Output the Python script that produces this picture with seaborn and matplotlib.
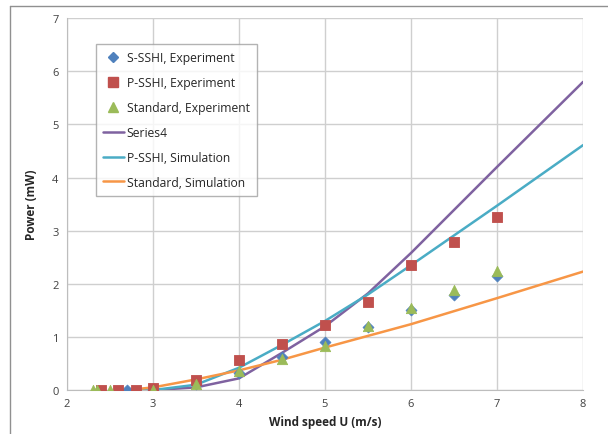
import matplotlib
matplotlib.use("Agg")
import matplotlib.pyplot as plt
import seaborn as sns
from matplotlib.lines import Line2D

# === Datos experimentales ===
s_sshi_x = [2.7, 3.0, 3.5, 4.0, 4.5, 5.0, 5.5, 6.0, 6.5, 7.0]
s_sshi_y = [0.0, 0.01, 0.12, 0.33, 0.62, 0.90, 1.18, 1.50, 1.78, 2.15]

p_sshi_x = [2.4, 2.6, 2.8, 3.0, 3.5, 4.0, 4.5, 5.0, 5.5, 6.0, 6.5, 7.0]
p_sshi_y = [0.0, 0.0, 0.01, 0.04, 0.19, 0.57, 0.87, 1.22, 1.65, 2.36, 2.78, 3.25]

std_x = [2.3, 2.35, 2.5, 3.0, 3.5, 4.0, 4.5, 5.0, 5.5, 6.0, 6.5, 7.0]
std_y = [0.0, 0.0, 0.0, 0.01, 0.12, 0.35, 0.58, 0.82, 1.20, 1.55, 1.88, 2.25]

# === Simulaciones ===
series4_x = [3.0, 3.5, 4.0, 4.5, 5.0, 5.5, 6.0, 7.0, 8.0]
series4_y = [0.0, 0.05, 0.22, 0.70, 1.20, 1.82, 2.58, 4.20, 5.80]

p_sim_x = [2.8, 3.0, 3.5, 4.0, 4.5, 5.0, 5.5, 6.0, 7.0, 8.0]
p_sim_y = [0.0, 0.0, 0.10, 0.42, 0.85, 1.30, 1.80, 2.35, 3.47, 4.61]

std_sim_x = [2.7, 3.0, 3.5, 4.0, 4.5, 5.0, 5.5, 6.0, 7.0, 8.0]
std_sim_y = [0.0, 0.05, 0.20, 0.37, 0.57, 0.80, 1.02, 1.24, 1.73, 2.23]

sns.set_style("white")
plt.rcParams["font.family"] = ["Open Sans", "DejaVu Sans"]

fig = plt.figure(figsize=(6.08, 4.35), dpi=100)
ax = fig.add_axes([0.110, 0.101, 0.849, 0.855])

sns.lineplot(x=series4_x, y=series4_y, ax=ax, color="#7F62A0", linewidth=1.8)
sns.lineplot(x=p_sim_x, y=p_sim_y, ax=ax, color="#4AACC5", linewidth=1.8)
sns.lineplot(x=std_sim_x, y=std_sim_y, ax=ax, color="#F79646", linewidth=1.8)

sns.scatterplot(x=s_sshi_x, y=s_sshi_y, ax=ax, marker="D", s=32, color="#4F81BD", edgecolor="#4F81BD", zorder=4)
sns.scatterplot(x=p_sshi_x, y=p_sshi_y, ax=ax, marker="s", s=60, color="#C0504D", edgecolor="#C0504D", zorder=4)
sns.scatterplot(x=std_x, y=std_y, ax=ax, marker="^", s=55, color="#9BBB59", edgecolor="#9BBB59", zorder=4)

ax.set_xlim(2, 8)
ax.set_ylim(0, 7)
ax.set_xticks(range(2, 9))
ax.set_yticks(range(0, 8))
ax.grid(True, color="#CFCFCF", linewidth=1)
for s in ["top", "right"]:
    ax.spines[s].set_visible(False)
for s in ["left", "bottom"]:
    ax.spines[s].set_color("#BDBDBD")
ax.tick_params(labelsize=8, colors="#404040", length=0, pad=6)
ax.set_xlabel("Wind speed U (m/s)", fontsize=8.5, fontweight="bold", labelpad=4)
ax.set_ylabel("Power (mW)", fontsize=8.5, fontweight="bold", labelpad=10)

handles = [
    Line2D([], [], marker="D", color="#4F81BD", linestyle="none", markersize=5),
    Line2D([], [], marker="s", color="#C0504D", linestyle="none", markersize=7),
    Line2D([], [], marker="^", color="#9BBB59", linestyle="none", markersize=7),
    Line2D([], [], color="#7F62A0", linewidth=1.8),
    Line2D([], [], color="#4AACC5", linewidth=1.8),
    Line2D([], [], color="#F79646", linewidth=1.8),
]
labels = ["S-SSHI, Experiment", "P-SSHI, Experiment", "Standard, Experiment",
          "Series4", "P-SSHI, Simulation", "Standard, Simulation"]
leg = ax.legend(handles, labels, loc="upper left", bbox_to_anchor=(0.056, 0.93),
                borderaxespad=0, fontsize=8.7, frameon=True, fancybox=False,
                handlelength=1.7, handletextpad=0.25, labelspacing=0.98, borderpad=0.6)
leg.get_frame().set_edgecolor("#A0A0A0")
leg.get_frame().set_linewidth(1)

# marco exterior
fig.add_artist(Line2D([10/608, 10/608], [0, 1 - 7/435], transform=fig.transFigure, color="#909090", linewidth=1))
fig.add_artist(Line2D([10/608, 1], [1 - 7/435, 1 - 7/435], transform=fig.transFigure, color="#909090", linewidth=1))

fig.savefig("out.png", dpi=100)
